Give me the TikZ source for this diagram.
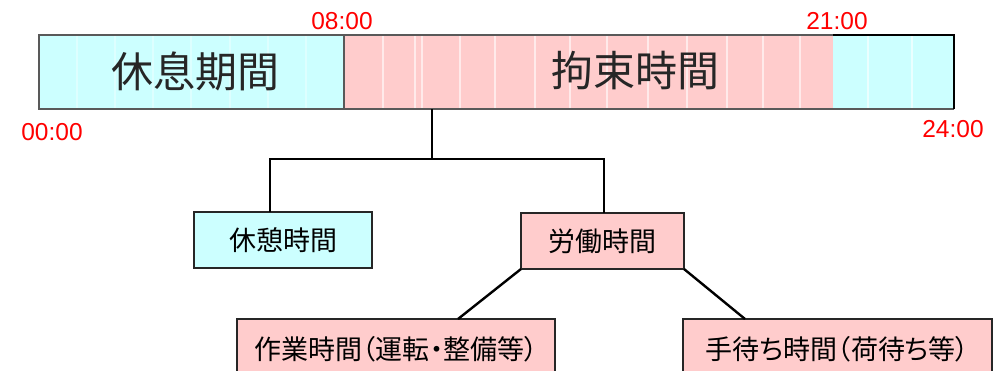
\documentclass[tikz,border=0pt]{standalone}
\usepackage{fontspec}
\setmainfont{Liberation Sans}
\newfontfamily\jp{Noto Sans CJK JP}
\newfontfamily\jpp{Noto Sans CJK JP}[RawFeature=+palt]
\definecolor{lblue}{HTML}{CCFFFF}
\definecolor{lpink}{HTML}{FFCCCC}
\begin{document}
\begin{tikzpicture}[x=1pt,y=-1pt,
 seg/.style={draw=none, minimum height=74pt, inner sep=0pt, outer sep=0pt},
 box/.style={draw=black!85, line width=1.8pt, inner sep=0pt, outer sep=0pt, font=\jpp\fontsize{27}{32}\selectfont},
 conn/.style={line width=2.8pt, black},
 diag/.style={line width=2.4pt, black},
 timelbl/.style={text=red, font=\fontsize{24.5}{28}\selectfont, inner sep=0pt},
 bartext/.style={font=\jp\fontsize{42}{48}\selectfont, text=black!85, inner sep=0pt},
 stripe/.style={white, line width=1.5pt, opacity=0.6},
 faintstripe/.style={white, line width=1.5pt, opacity=0.35}]
\useasboundingbox (0,0) rectangle (995,370);
\clip (0,0) rectangle (995,370);
\fill[white] (0,0) rectangle (995,370);
% bar segments
\node[seg, fill=lblue, minimum width=305pt] (rest) at (191.5,72) {};
\node[seg, fill=lpink, minimum width=489pt] (kosoku) at (588.5,72) {};
\node[seg, fill=lblue, minimum width=121pt] (night) at (893.5,72) {};
% hour stripes
\foreach \x in {77,115,153,191,230,268,306}
  \draw[faintstripe] (\x,36) -- (\x,108);
\foreach \x in {383,415,422,460,495,535,570,607,648,687,727,763,800,868,912}
  \draw[stripe] (\x,36) -- (\x,108);
% outlines
\draw[black!65, line width=1.3pt] (night.south east) -- (rest.south west) -- (rest.north west) -- (kosoku.north east);
\draw[black!65, line width=1.3pt] (rest.north east) -- (rest.south east);
\draw[black, line width=2.5pt] (night.north west) -- (night.north east) -- (night.south east);
% bar texts
\node[bartext] (t1) at (195,71) {休息期間};
\node[bartext] (t2) at (635,71) {拘束時間};
% time labels
\node[timelbl] (h0) at (52,132) {00:00};
\node[timelbl] (h8) at (342,21) {08:00};
\node[timelbl] (h21) at (837,21) {21:00};
\node[timelbl] (h24) at (953,129) {24:00};
% boxes
\node[box, fill=lblue, minimum width=178pt, minimum height=56pt] (kyukei) at (283,240) {休憩時間};
\node[box, fill=lpink, minimum width=163pt, minimum height=56pt] (rodo) at (602.5,241) {労働時間};
\node[box, fill=lpink, minimum width=318pt, minimum height=60pt] (sagyo) at (396,349) {作業時間（運転・整備等）};
\node[box, fill=lpink, minimum width=309pt, minimum height=60pt] (temachi) at (837.5,349) {手待ち時間（荷待ち等）};
% connectors
\coordinate (j) at (432,159);
\coordinate (jl) at (270,159);
\coordinate (jr) at (604,159);
\draw[conn] (kosoku.south -| j) -- (j);
\draw[conn] (kyukei.north -| jl) -- (jl) -- (jr) -- (rodo.north -| jr);
\coordinate (sa) at (458,0);
\coordinate (te) at (745,0);
\draw[diag] (rodo.south west) -- (sagyo.north -| sa);
\draw[diag] (rodo.south east) -- (temachi.north -| te);
\end{tikzpicture}
\end{document}
